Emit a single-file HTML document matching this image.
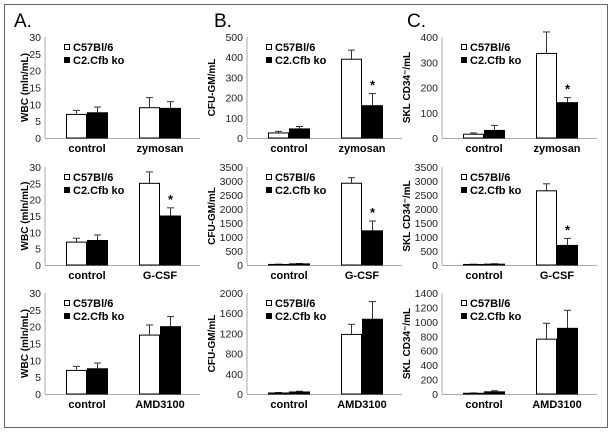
<!DOCTYPE html>
<html><head><meta charset="utf-8"><style>
body{margin:0;background:#fff}
svg{display:block;font-family:"Liberation Sans",sans-serif}
</style></head><body>
<svg id="fig" width="612" height="433">
<rect x="4.5" y="4.5" width="603" height="423" fill="none" stroke="#666" stroke-width="1"/>
<text x="14" y="27" font-size="19">A.</text>
<text x="214" y="27" font-size="19">B.</text>
<text x="407" y="27" font-size="19">C.</text>
</svg>
<script>
const categories=[["control","zymosan"],["control","G-CSF"],["control","AMD3100"]];
const yLabels=["WBC (mln/mL)","CFU-GM/mL","SKL CD34\u207B/mL"];
const yMaxA=[30,30,30], yStepA=[5,5,5];
const yMaxB=[500,3500,2000], yStepB=[100,500,400];
const yMaxC=[400,3500,1400], yStepC=[100,500,200];
const whiteA=[[7,9],[7,25],[7,17.5]], whiteErrA=[[1.2,3],[1.2,3.5],[1.2,3]];
const blackA=[[7.5,8.8],[7.5,15],[7.5,20]], blackErrA=[[1.7,2],[1.7,2.5],[1.7,3]];
const whiteB=[[25,390],[20,2920],[20,1180]], whiteErrB=[[8,45],[10,200],[10,200]];
const blackB=[[45,160],[40,1220],[40,1480]], blackErrB=[[12,60],[15,350],[15,350]];
const whiteC=[[15,335],[20,2650],[10,760]], whiteErrC=[[5,85],[8,250],[5,220]];
const blackC=[[30,140],[30,700],[30,910]], blackErrC=[[20,20],[15,250],[15,250]];
const starsA=[[false,false],[false,true],[false,false]];
const starsB=[[false,true],[false,true],[false,false]];
const starsC=[[false,true],[false,true],[false,false]];

const NS="http://www.w3.org/2000/svg";
const svg=document.getElementById('fig');
function mk(t,a,txt){const e=document.createElementNS(NS,t);for(const k in a)e.setAttribute(k,a[k]);if(txt!==undefined)e.textContent=txt;svg.appendChild(e);return e;}
const colX=[45,247,442], rowTop=[37,167,293], rowBase=[138,265,394], titleOff=[17,32,32];
const cols=[
 {yMax:yMaxA,yStep:yStepA,w:whiteA,we:whiteErrA,b:blackA,be:blackErrA,s:starsA},
 {yMax:yMaxB,yStep:yStepB,w:whiteB,we:whiteErrB,b:blackB,be:blackErrB,s:starsB},
 {yMax:yMaxC,yStep:yStepC,w:whiteC,we:whiteErrC,b:blackC,be:blackErrC,s:starsC}];
for(let c=0;c<3;c++)for(let r=0;r<3;r++){
 const P=cols[c], ax=colX[c], top=rowTop[r], base=rowBase[r], ymax=P.yMax[r];
 const y=v=>base-(v/ymax)*(base-top);
 const id=`${'abc'[c]}${r+1}`;
 let e=mk('line',{x1:ax,y1:top,x2:ax,y2:base,stroke:'#aaa','stroke-width':1});
 
 e=mk('line',{x1:ax,y1:base+0.5,x2:ax+155,y2:base+0.5,stroke:'#aaa','stroke-width':1});
 
 for(let v=0;v<=ymax+1e-9;v+=P.yStep[r]){
  e=mk('text',{x:ax-4,y:y(v)+4,'font-size':10.5,'text-anchor':'end',fill:'#222'},String(v));
  
 }
 const mid=(top+base)/2;
 e=mk('text',{x:0,y:0,'font-size':10,'font-weight':'bold','text-anchor':'middle',transform:`translate(${ax-titleOff[c]},${mid}) rotate(-90)`},yLabels[c]);
 
 const centers=[ax+42,ax+115];
 for(let g=0;g<2;g++){
  const cx=centers[g];
  const vals=[[P.w[r][g],P.we[r][g],'#fff','white'],[P.b[r][g],P.be[r][g],'#000','black']];
  vals.forEach((d,i)=>{
   const x0=i?cx:cx-21, yv=y(d[0]), ye=y(d[0]+d[1]);
   let l=mk('line',{x1:x0+10.5,y1:yv,x2:x0+10.5,y2:ye,stroke:'#333','stroke-width':1});
   
   l=mk('line',{x1:x0+7,y1:ye,x2:x0+14,y2:ye,stroke:'#333','stroke-width':1});
   
   const b=mk('rect',{x:x0+0.5,y:yv,width:20,height:base-yv,fill:d[2],stroke:'#000','stroke-width':1});
   
   if(i===1&&P.s[r][g]){const s=mk('text',{x:x0+10.5,y:ye-4,'font-size':13,'font-weight':'bold','text-anchor':'middle'},'*');
    }
  });
  e=mk('text',{x:cx,y:base+14,'font-size':11,'font-weight':'bold','text-anchor':'middle'},categories[r][g]);
  
 }
 const lx=ax+19, ly=top+7;
 e=mk('rect',{x:lx+0.5,y:ly+0.5,width:5,height:5,fill:'#fff',stroke:'#000','stroke-width':1});
 
 e=mk('text',{x:lx+9,y:ly+7,'font-size':11,'font-weight':'bold'},'C57Bl/6');
 
 e=mk('rect',{x:lx,y:ly+13,width:6,height:6,fill:'#000'});
 
 e=mk('text',{x:lx+9,y:ly+20,'font-size':11,'font-weight':'bold'},'C2.Cfb ko');
 
}
</script>
</body></html>
